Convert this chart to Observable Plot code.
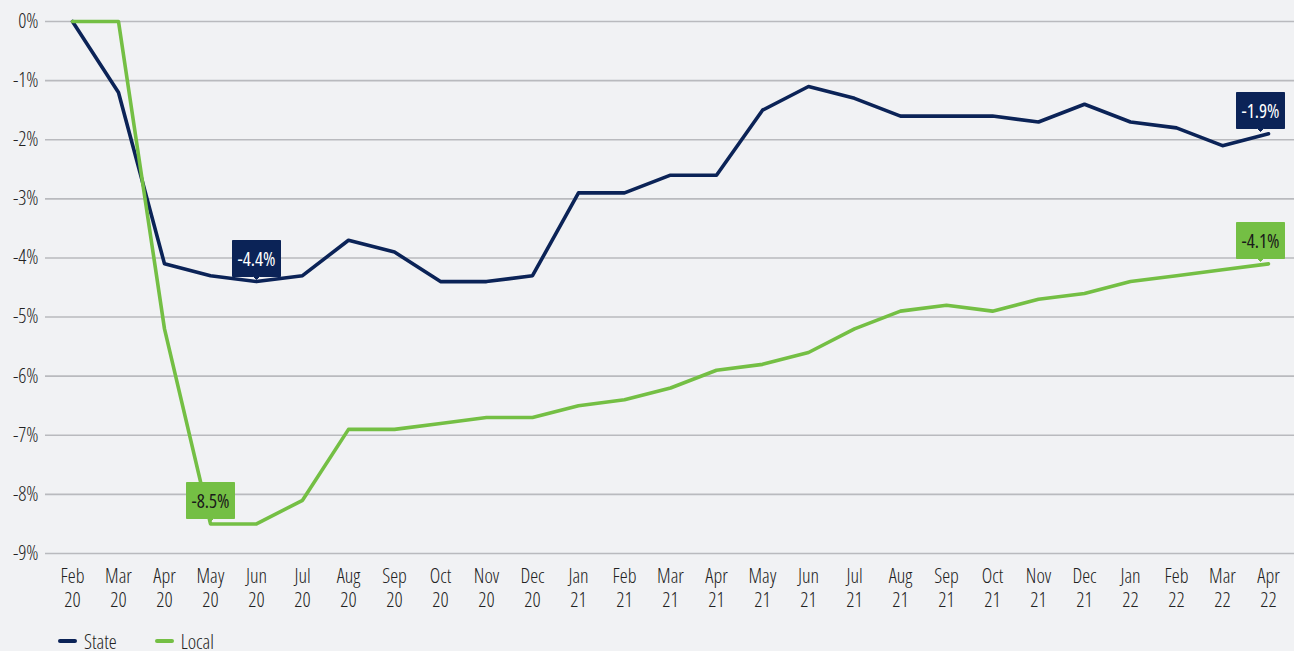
<!DOCTYPE html>
<html>
<head>
<meta charset="utf-8">
<script src="https://cdn.jsdelivr.net/npm/d3@7"></script>
<script src="https://cdn.jsdelivr.net/npm/@observablehq/plot@0.6"></script>
<style>
  html, body { margin: 0; padding: 0; background: #f1f2f4; }
  body { width: 1294px; height: 651px; overflow: hidden; font-family: "Open Sans", sans-serif; font-stretch: 75%; }
  #chart svg { display: block; }
  #chart svg text { font-stretch: 75%; }
  .legend { display: flex; align-items: center; margin-top: 7px; padding-left: 58px; height: 24px; font-size: 20px; font-weight: 350; color: #222; }
  .legend .item { display: flex; align-items: center; margin-right: 38px; }
  .legend .sw { width: 19px; height: 4px; border-radius: 2px; margin-right: 7px; }
</style>
</head>
<body>
<div id="chart"></div>
<div class="legend" id="legend"></div>
<script>
const months = ["Feb 20","Mar 20","Apr 20","May 20","Jun 20","Jul 20","Aug 20","Sep 20","Oct 20","Nov 20","Dec 20",
  "Jan 21","Feb 21","Mar 21","Apr 21","May 21","Jun 21","Jul 21","Aug 21","Sep 21","Oct 21","Nov 21","Dec 21",
  "Jan 22","Feb 22","Mar 22","Apr 22"];
const stateValues = [0,-1.2,-4.1,-4.3,-4.4,-4.3,-3.7,-3.9,-4.4,-4.4,-4.3,-2.9,-2.9,-2.6,-2.6,-1.5,-1.1,-1.3,-1.6,-1.6,-1.6,-1.7,-1.4,-1.7,-1.8,-2.1,-1.9];
const localValues = [0,0,-5.2,-8.5,-8.5,-8.1,-6.9,-6.9,-6.8,-6.7,-6.7,-6.5,-6.4,-6.2,-5.9,-5.8,-5.6,-5.2,-4.9,-4.8,-4.9,-4.7,-4.6,-4.4,-4.3,-4.2,-4.1];
const yTicks = [0,-1,-2,-3,-4,-5,-6,-7,-8,-9];
const seriesNames = ["State","Local"];
const seriesColors = ["#0b2357","#74bf44"];
const stateLabelMonths = ["Jun 20","Apr 22"];
const localLabelMonths = ["May 20","Apr 22"];

const rows = [];
months.forEach((m, i) => {
  rows.push({month: m, value: stateValues[i], series: "State"});
  rows.push({month: m, value: localValues[i], series: "Local"});
});
const stateLabels = rows.filter(d => d.series === "State" && stateLabelMonths.includes(d.month));
const localLabels = rows.filter(d => d.series === "Local" && localLabelMonths.includes(d.month));
const fmt = v => `${v.toFixed(1)}%`;

const tipOpts = (color, dx) => ({x: "month", y: "value", title: d => fmt(d.value), anchor: "bottom", dx, dy: -2,
  fill: color, stroke: color, pointerSize: 6, textPadding: 5, fontSize: 19, fontWeight: 500, pathFilter: "none"});

const W = 1294, H = 622;
const chart = Plot.plot({
  width: W,
  height: H,
  marginLeft: 45,
  marginRight: 0,
  marginTop: 21,
  marginBottom: 69,
  style: {background: "#f1f2f4", fontFamily: "'Open Sans', sans-serif", fontSize: "20px", color: "#222"},
  x: {type: "point", domain: months, padding: 0.56},
  y: {domain: [-9, 0]},
  color: {domain: seriesNames, range: seriesColors},
  marks: [
    Plot.ruleY(yTicks, {stroke: "#b9babe", strokeWidth: 1.6}),
    Plot.axisY(yTicks, {tickSize: 0, tickPadding: 7, tickFormat: d => `${d}%`, fontSize: 20, fontWeight: 350, fill: "#222", label: null}),
    Plot.axisX({tickSize: 0, tickPadding: 13, tickFormat: d => d.replace(" ", "\n"), fontSize: 20, fontWeight: 350, lineHeight: 1.18, fill: "#222", label: null}),
    Plot.line(rows, {x: "month", y: "value", z: "series", stroke: "series", strokeWidth: 3.6}),
    Plot.tip(stateLabels.filter(d => d.month !== "Apr 22"), tipOpts(seriesColors[0], 0)),
    Plot.tip(stateLabels.filter(d => d.month === "Apr 22"), tipOpts(seriesColors[0], -8)),
    Plot.tip(localLabels.filter(d => d.month !== "Apr 22"), tipOpts(seriesColors[1], 0)),
    Plot.tip(localLabels.filter(d => d.month === "Apr 22"), tipOpts(seriesColors[1], -8))
  ]
});
document.getElementById("chart").appendChild(chart);

// tip text colours
const tips = chart.querySelectorAll('g[aria-label="tip"]');
tips.forEach((g, i) => {
  const col = i < 2 ? "#ffffff" : "#1a1a1a";
  g.querySelectorAll("text, tspan").forEach(t => { t.setAttribute("fill", col); t.style.fill = col; });
});

// legend
const legend = document.getElementById("legend");
seriesNames.forEach((name, i) => {
  const item = document.createElement("div");
  item.className = "item";
  const sw = document.createElement("div");
  sw.className = "sw";
  sw.style.background = seriesColors[i];
  const label = document.createElement("span");
  label.textContent = name;
  item.appendChild(sw);
  item.appendChild(label);
  legend.appendChild(item);
});
</script>
</body>
</html>
